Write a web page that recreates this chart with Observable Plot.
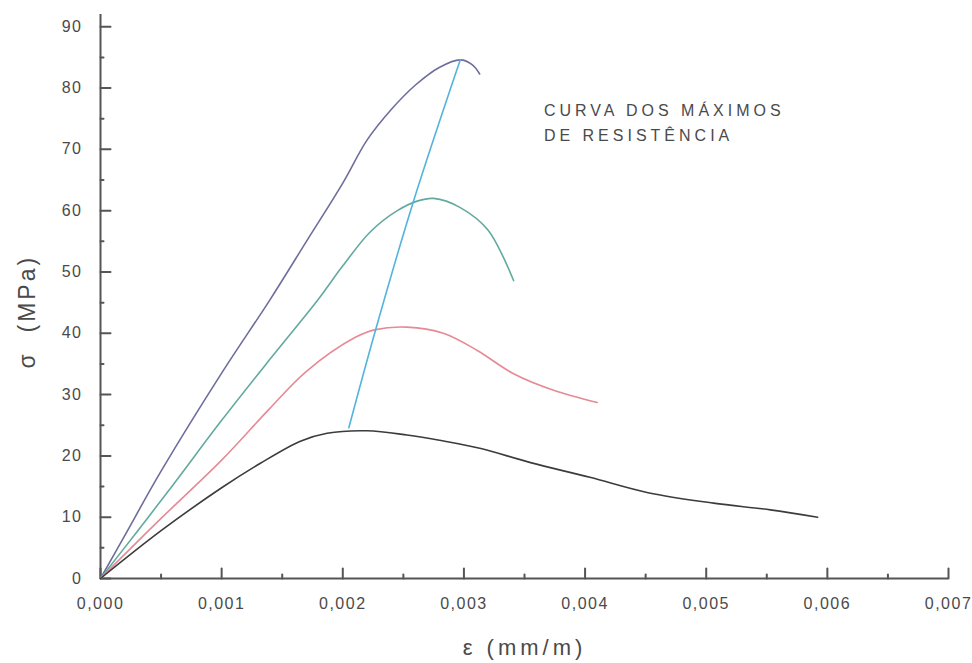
<!DOCTYPE html>
<html>
<head>
<meta charset="utf-8">
<script src="https://cdn.jsdelivr.net/npm/d3@7"></script>
<script src="https://cdn.jsdelivr.net/npm/@observablehq/plot@0.6"></script>
<style>
  body { margin: 0; background: #fff; }
  #chart svg { display: block; }
  #chart g[aria-label="x-axis tick label"] text,
  #chart g[aria-label="y-axis tick label"] text { letter-spacing: 1.5px; }
</style>
</head>
<body>
<div id="chart"></div>
<script>
// ---- Data (ε in mm/m, σ in MPa) ----
const eps85 = [0, 0.0002, 0.0005, 0.0010, 0.0014, 0.0017, 0.0020, 0.0022, 0.0024, 0.0026, 0.0028, 0.00297, 0.00307, 0.00313];
const sig85 = [0, 7, 17.5, 33.5, 45.5, 55, 64.5, 71.5, 76.5, 80.5, 83.4, 84.6, 83.8, 82.3];

const eps62 = [0, 0.0003, 0.0006, 0.0010, 0.0014, 0.0018, 0.0020, 0.00223, 0.00245, 0.00262, 0.00275, 0.00297, 0.0032, 0.00341];
const sig62 = [0, 7.6, 15.3, 25.8, 35.8, 45.6, 51, 56.6, 60, 61.6, 62, 60.5, 56.8, 48.6];

const eps41 = [0, 0.0005, 0.0010, 0.0014, 0.0017, 0.0021, 0.00227, 0.00253, 0.00283, 0.00311, 0.00341, 0.00374, 0.0041];
const sig41 = [0, 9.8, 19.3, 27.8, 33.8, 39.3, 40.6, 41, 40, 37.2, 33.4, 30.7, 28.7];

const eps24 = [0, 0.0005, 0.0010, 0.00132, 0.00165, 0.00187, 0.0022, 0.00253, 0.00281, 0.00314, 0.00355, 0.00404, 0.00452, 0.00506, 0.00553, 0.00592];
const sig24 = [0, 7.8, 14.8, 18.8, 22.4, 23.7, 24.1, 23.4, 22.5, 21.2, 18.9, 16.5, 14, 12.3, 11.2, 10];

const epsMax = [0.00205, 0.00227, 0.00258, 0.00297];
const sigMax = [24.6, 40.5, 61.3, 84.6];

const seriesNames  = ["85", "62", "41", "24", "max"];
const seriesColors = ["#6e6e9c", "#62aaa0", "#e58a96", "#3c3c3c", "#52b4de"];

const xMajorTicks = [0, 0.001, 0.002, 0.003, 0.004, 0.005, 0.006, 0.007];
const xMinorTicks = [0.0005, 0.0015, 0.0025, 0.0035, 0.0045, 0.0055, 0.0065];
const yMajorTicks = [0, 10, 20, 30, 40, 50, 60, 70, 80, 90];
const yMinorTicks = [5, 15, 25, 35, 45, 55, 65, 75, 85];
const xDomain = [0, 0.007];
const yDomain = [0, 92];

const xTitle = "ε (mm/m)";
const yTitle = "σ  (MPa)";
const noteText = "CURVA DOS MÁXIMOS\nDE RESISTÊNCIA";
const noteX = [0.00366];
const noteY = [78.3];

// ---- Build table ----
const allEps = [eps85, eps62, eps41, eps24, epsMax];
const allSig = [sig85, sig62, sig41, sig24, sigMax];
const rows = [];
seriesNames.forEach((name, i) => {
  allEps[i].forEach((e, j) => rows.push({series: name, eps: e, sig: allSig[i][j]}));
});

const font = "'Liberation Sans', Arial, sans-serif";
const axisColor = "#555";
const textColor = "#4a4a4a";
const tickShape = {draw(context, l) { context.moveTo(0, 0); context.lineTo(0, -l); }};
const fmtX = d => d3.format(".3f")(d).replace(".", ",");

const chart = Plot.plot({
  width: 972,
  height: 663,
  marginLeft: 100,
  marginRight: 24,
  marginTop: 14,
  marginBottom: 85,
  style: {fontFamily: font, background: "#fff", color: textColor},
  x: {domain: xDomain},
  y: {domain: yDomain},
  color: {domain: seriesNames, range: seriesColors},
  marks: [
    // axis lines
    Plot.ruleY([0], {x1: xDomain[0], x2: xDomain[1], stroke: axisColor, strokeWidth: 2}),
    Plot.ruleX([0], {y1: yDomain[0], y2: yDomain[1], stroke: axisColor, strokeWidth: 2}),
    // inward ticks
    Plot.vector(yMajorTicks, {x: 0, y: d => d, length: 10, rotate: 90, anchor: "start", shape: tickShape, stroke: axisColor, strokeWidth: 2}),
    Plot.vector(yMinorTicks, {x: 0, y: d => d, length: 3, rotate: 90, anchor: "start", shape: tickShape, stroke: axisColor, strokeWidth: 2}),
    Plot.vector(xMajorTicks, {x: d => d, y: 0, length: 10, rotate: 0, anchor: "start", shape: tickShape, stroke: axisColor, strokeWidth: 2}),
    Plot.vector(xMinorTicks, {x: d => d, y: 0, length: 4, rotate: 0, anchor: "start", shape: tickShape, stroke: axisColor, strokeWidth: 2}),
    // tick labels
    Plot.axisX(xMajorTicks, {tickSize: 0, tickPadding: 19, tickFormat: fmtX, fontSize: 16, fill: textColor, label: null}),
    Plot.axisY(yMajorTicks, {tickSize: 0, tickPadding: 18, fontSize: 16, fill: textColor, label: null}),
    // curves
    Plot.line(rows, {x: "eps", y: "sig", z: "series", stroke: "series", strokeWidth: 1.6, curve: "catmull-rom"}),
    // titles
    Plot.text([xTitle], {frameAnchor: "bottom", dy: 76, fontSize: 22, fill: textColor, text: d => d}),
    Plot.text([yTitle], {frameAnchor: "left", dx: -73, dy: 72, rotate: -90, fontSize: 23, fill: textColor, text: d => d}),
    // annotation
    Plot.text(noteX, {x: d => d, y: (d, i) => noteY[i], text: () => noteText, textAnchor: "start", lineAnchor: "top", lineHeight: 1.56, fontSize: 16, fill: textColor})
  ]
});

chart.querySelectorAll('g[aria-label="text"] text').forEach(t => {
  const s = t.textContent;
  if (s.includes("CURVA") || s.includes("RESIST")) t.style.letterSpacing = "4px";
  else if (s.startsWith("ε")) t.style.letterSpacing = "4px";
  else if (s.startsWith("σ")) t.style.letterSpacing = "3px";
});
document.getElementById("chart").appendChild(chart);
</script>
</body>
</html>
